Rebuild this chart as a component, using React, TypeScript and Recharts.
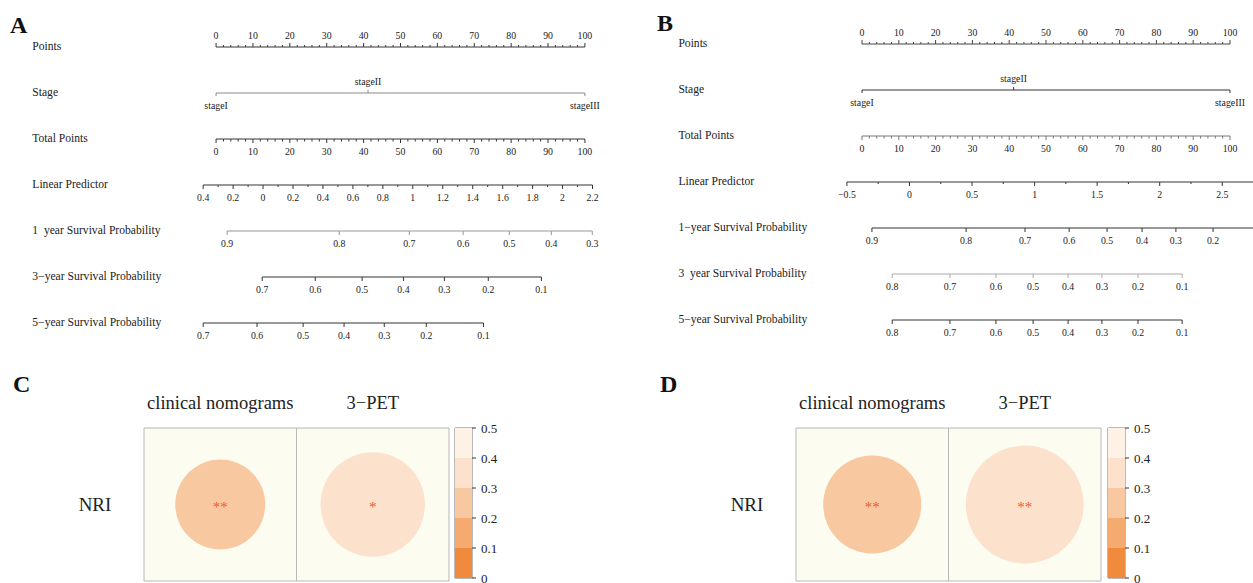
import React from "react";
import {
  ScatterChart,
  Scatter,
  XAxis,
  YAxis,
  ZAxis,
  ReferenceArea,
  BarChart,
  Bar,
} from "recharts";

const FONT = "'Liberation Serif', 'Times New Roman', serif";

// ---------- nomogram A (positions on the 0-100 "Points" scale) ----------
const rowNamesA = [
  "Points",
  "Stage",
  "Total Points",
  "Linear Predictor",
  "1\u00a0\u00a0year Survival Probability",
  "3\u2212year Survival Probability",
  "5\u2212year Survival Probability",
];
const pointsMajor = [0, 10, 20, 30, 40, 50, 60, 70, 80, 90, 100];
const stageLabels = ["stageI", "stageII", "stageIII"];
const stagePtsA = [0, 41.2, 100];

const lpValuesA = [-0.4, -0.2, 0, 0.2, 0.4, 0.6, 0.8, 1, 1.2, 1.4, 1.6, 1.8, 2, 2.2];
const lpLabelsA = ["0.4", "0.2", "0", "0.2", "0.4", "0.6", "0.8", "1", "1.2", "1.4", "1.6", "1.8", "2", "2.2"];
const lpMinorA = [-0.3, -0.1, 0.1, 0.3, 0.5, 0.7, 0.9, 1.1, 1.3, 1.5, 1.7, 1.9, 2.1];
const lpScaleA = { origin: -0.4, originPts: -3.5, ptsPerUnit: 40.6 };

const surv1LabelsA = ["0.9", "0.8", "0.7", "0.6", "0.5", "0.4", "0.3"];
const surv1PtsA = [3.0, 33.4, 52.4, 67.0, 79.5, 90.9, 102.0];
const surv3LabelsA = ["0.7", "0.6", "0.5", "0.4", "0.3", "0.2", "0.1"];
const surv3PtsA = [12.5, 26.9, 39.6, 50.8, 61.9, 73.8, 88.2];
const surv5LabelsA = ["0.7", "0.6", "0.5", "0.4", "0.3", "0.2", "0.1"];
const surv5PtsA = [-3.5, 11.1, 23.6, 34.7, 45.6, 57.0, 72.5];

// ---------- nomogram B ----------
const rowNamesB = [
  "Points",
  "Stage",
  "Total Points",
  "Linear Predictor",
  "1\u2212year Survival Probability",
  "3\u00a0\u00a0year Survival Probability",
  "5\u2212year Survival Probability",
];
const stagePtsB = [0, 41.2, 100];
const lpValuesB = [-0.5, 0, 0.5, 1, 1.5, 2, 2.5];
const lpLabelsB = ["\u22120.5", "0", "0.5", "1", "1.5", "2", "2.5"];
const lpMinorB = [-0.25, 0.25, 0.75, 1.25, 1.75, 2.25, 2.75];
const lpEndB = 3.0;
const lpScaleB = { origin: -0.5, originPts: -4.1, ptsPerUnit: 34.0 };

const surv1LabelsB = ["0.9", "0.8", "0.7", "0.6", "0.5", "0.4", "0.3", "0.2"];
const surv1PtsB = [2.7, 28.3, 44.3, 56.3, 66.6, 76.1, 85.3, 95.4];
const surv1EndB = 112;
const surv3LabelsB = ["0.8", "0.7", "0.6", "0.5", "0.4", "0.3", "0.2", "0.1"];
const surv3PtsB = [8.2, 23.9, 36.4, 46.5, 56.0, 65.2, 75.0, 87.0];
const surv5LabelsB = ["0.8", "0.7", "0.6", "0.5", "0.4", "0.3", "0.2", "0.1"];
const surv5PtsB = [8.2, 23.9, 36.4, 46.5, 56.0, 65.2, 75.0, 87.0];

// ---------- NRI panels ----------
const nriCols = ["clinical nomograms", "3\u2212PET"];
const nriRows = ["NRI"];
const nriValuesC = [0.26, 0.35];
const nriSigC = ["**", "*"];
const nriValuesD = [0.27, 0.39];
const nriSigD = ["**", "**"];
const colorBands = [
  { from: 0, to: 0.1, color: "#F08B3E" },
  { from: 0.1, to: 0.2, color: "#F5AB70" },
  { from: 0.2, to: 0.3, color: "#F8C9A1" },
  { from: 0.3, to: 0.4, color: "#FCE2CC" },
  { from: 0.4, to: 0.5, color: "#FEF1E6" },
];
const colorTicks = [0, 0.1, 0.2, 0.3, 0.4, 0.5];

type NomoTick = { pts: number; row: number; label: string; len: number; side: "above" | "below" };
type NomoRow = { ticks: NomoTick[]; stroke: string };

const range = (a: number, b: number, step: number) => {
  const out: number[] = [];
  for (let v = a; v <= b + 1e-9; v += step) out.push(Math.round(v * 100) / 100);
  return out;
};
const pointsMinor = range(0, 100, 2).filter((v) => v % 10 !== 0);

const mk = (row: number, pts: number[], labels: string[] | null, side: "above" | "below", len: number): NomoTick[] =>
  pts.map((p, i) => ({ pts: p, row, label: labels ? labels[i] : "", len, side }));
const sorted = (t: NomoTick[]) => [...t].sort((a, b) => a.pts - b.pts);
const lpToPts = (s: { origin: number; originPts: number; ptsPerUnit: number }) => (v: number) =>
  s.originPts + (v - s.origin) * s.ptsPerUnit;

const stageRow = (pts: number[]): NomoTick[] =>
  pts.map((p, i) => ({ pts: p, row: 1, label: stageLabels[i], len: 3, side: i === 1 ? "above" : "below" }));

const lpA = lpToPts(lpScaleA);
const rowsA: NomoRow[] = [
  { ticks: sorted([...mk(0, pointsMajor, pointsMajor.map(String), "above", 4), ...mk(0, pointsMinor, null, "above", 2)]), stroke: "#333" },
  { ticks: stageRow(stagePtsA), stroke: "#8a8a8a" },
  { ticks: sorted([...mk(2, pointsMajor, pointsMajor.map(String), "below", 4), ...mk(2, pointsMinor, null, "below", 2.5)]), stroke: "#333" },
  { ticks: sorted([...mk(3, lpValuesA.map(lpA), lpLabelsA, "below", 4), ...mk(3, lpMinorA.map(lpA), null, "below", 2)]), stroke: "#333" },
  { ticks: mk(4, surv1PtsA, surv1LabelsA, "below", 4), stroke: "#999" },
  { ticks: mk(5, surv3PtsA, surv3LabelsA, "below", 4), stroke: "#333" },
  { ticks: mk(6, surv5PtsA, surv5LabelsA, "below", 4), stroke: "#333" },
];

const lpB = lpToPts(lpScaleB);
const rowsB: NomoRow[] = [
  { ticks: sorted([...mk(0, pointsMajor, pointsMajor.map(String), "above", 4), ...mk(0, pointsMinor, null, "above", 2)]), stroke: "#444" },
  { ticks: stageRow(stagePtsB), stroke: "#333" },
  { ticks: sorted([...mk(2, pointsMajor, pointsMajor.map(String), "below", 4), ...mk(2, pointsMinor, null, "below", 2.5)]), stroke: "#777" },
  {
    ticks: sorted([
      ...mk(3, lpValuesB.map(lpB), lpLabelsB, "below", 4),
      ...mk(3, lpMinorB.map(lpB), null, "below", 2),
      ...mk(3, [lpB(lpEndB)], null, "below", 0),
    ]),
    stroke: "#333",
  },
  { ticks: [...mk(4, surv1PtsB, surv1LabelsB, "below", 4), ...mk(4, [surv1EndB], null, "below", 0)], stroke: "#333" },
  { ticks: mk(5, surv3PtsB, surv3LabelsB, "below", 4), stroke: "#aaa" },
  { ticks: mk(6, surv5PtsB, surv5LabelsB, "below", 4), stroke: "#333" },
];

const TickMark = (p: any) => {
  const { cx, cy, payload, stroke } = p;
  const s = payload.side === "above" ? -1 : 1;
  return (
    <g>
      {payload.len > 0 && <line x1={cx} x2={cx} y1={cy} y2={cy + s * payload.len} stroke={stroke} strokeWidth={1} />}
      {payload.label && (
        <text x={cx} y={s < 0 ? cy - 8.5 : cy + 16} textAnchor="middle" fontSize={9.8} fontFamily={FONT} fill="#222">
          {payload.label}
        </text>
      )}
    </g>
  );
};

function Nomogram(props: {
  rows: NomoRow[];
  names: string[];
  left: number;
  top: number;
  width: number;
  domain: [number, number];
  axisWidth: number;
  marginRight: number;
}) {
  const { rows, names, left, top, width, domain, axisWidth, marginRight } = props;
  return (
    <div style={{ position: "absolute", left, top }}>
      <ScatterChart width={width} height={380} margin={{ top: 1, right: marginRight, bottom: 11, left: 0 }}>
        <XAxis type="number" dataKey="pts" domain={domain} hide />
        <YAxis
          type="number"
          dataKey="row"
          domain={[-1, 7]}
          reversed
          ticks={[0, 1, 2, 3, 4, 5, 6]}
          interval={0}
          width={axisWidth}
          axisLine={false}
          tickLine={false}
          tickSize={0}
          tickMargin={0}
          tick={(t: any) => (
            <text x={t.x - 110} y={t.y} dy={3} fontSize={11.6} fontFamily={FONT} fill="#222" textAnchor="start">
              {names[t.payload.value]}
            </text>
          )}
        />
        {rows.map((r, i) => (
          <Scatter
            key={i}
            data={r.ticks}
            line={{ stroke: r.stroke, strokeWidth: 1 }}
            shape={(p: any) => <TickMark {...p} stroke={r.stroke} />}
            isAnimationActive={false}
          />
        ))}
      </ScatterChart>
    </div>
  );
}

const bandColor = (v: number) => {
  const b = colorBands.find((c) => v >= c.from && v < c.to);
  return b ? b.color : colorBands[colorBands.length - 1].color;
};

const Bubble = (p: any) => {
  const r = p.width / 2;
  return (
    <g>
      <circle cx={p.cx} cy={p.cy} r={r} fill={bandColor(p.payload.v)} />
      <text x={p.cx} y={p.cy + 7.5} textAnchor="middle" fontSize={15} fontFamily={FONT} fill="#EE5A28">
        {p.payload.sig}
      </text>
    </g>
  );
};

function NriPanel(props: { left: number; axisWidth: number; values: number[]; sig: string[]; maxArea: number }) {
  const { left, axisWidth, values, sig, maxArea } = props;
  const data = nriCols.map((c, i) => ({ x: i + 0.5, y: 0.5, v: values[i], sig: sig[i] }));
  return (
    <div style={{ position: "absolute", left, top: 360 }}>
      <ScatterChart width={axisWidth + 316} height={223} margin={{ top: 38, right: 11, bottom: 2, left: 0 }}>
        <XAxis
          type="number"
          dataKey="x"
          orientation="top"
          domain={[0, 2]}
          ticks={[0.5, 1.5]}
          interval={0}
          height={30}
          axisLine={false}
          tickLine={false}
          tickSize={0}
          tickMargin={0}
          tick={(t: any) => (
            <text x={t.x} y={t.y - 25} dy={6} textAnchor="middle" fontSize={18.5} fontFamily={FONT} fill="#222">
              {nriCols[Math.floor(t.payload.value)]}
            </text>
          )}
        />
        <YAxis
          type="number"
          dataKey="y"
          domain={[0, 1]}
          ticks={[0.5]}
          width={axisWidth}
          axisLine={false}
          tickLine={false}
          tickSize={0}
          tickMargin={0}
          tick={(t: any) => (
            <text x={t.x - 49} y={t.y} dy={6} textAnchor="middle" fontSize={19} fontFamily={FONT} fill="#222">
              {nriRows[0]}
            </text>
          )}
        />
        <ZAxis type="number" dataKey="v" domain={[0, 0.5]} range={[0, maxArea]} />
        {nriCols.map((c, i) => (
          <ReferenceArea key={c} x1={i} x2={i + 1} y1={0} y2={1} fill="#FDFCF0" fillOpacity={1} stroke="#B8B8B8" strokeWidth={1} />
        ))}
        <Scatter data={data} shape={Bubble} isAnimationActive={false} />
      </ScatterChart>
    </div>
  );
}

function ColorBar({ left }: { left: number }) {
  const row: Record<string, any> = { k: "cb" };
  colorBands.forEach((b, i) => (row[`b${i}`] = Math.round((b.to - b.from) * 100) / 100));
  return (
    <div style={{ position: "absolute", left, top: 420 }}>
      <BarChart width={100} height={163} data={[row]} margin={{ top: 8, right: 18, bottom: 5, left: 15 }} barCategoryGap={0}>
        <XAxis dataKey="k" hide />
        <YAxis
          orientation="right"
          type="number"
          domain={[0, 0.5]}
          ticks={colorTicks}
          interval={0}
          width={50}
          tickSize={4}
          tickMargin={5}
          axisLine={false}
          stroke="#333"
          tick={{ fontSize: 13, fill: "#222", fontFamily: FONT }}
        />
        {colorBands.map((b, i) => (
          <Bar key={i} dataKey={`b${i}`} stackId="cb" fill={b.color} isAnimationActive={false} />
        ))}
        <ReferenceArea y1={0} y2={0.5} fill="none" stroke="#777" strokeWidth={1} />
      </BarChart>
    </div>
  );
}

export default function App() {
  return (
    <div
      style={{
        position: "absolute",
        left: 0,
        top: 0,
        width: 1253,
        height: 583,
        overflow: "hidden",
        background: "#fff",
        fontFamily: FONT,
      }}
    >
      <Nomogram rows={rowsA} names={rowNamesA} left={0} top={0} width={640} domain={[-20, 110]} axisWidth={142.3} marginRight={18.2} />
      <Nomogram rows={rowsB} names={rowNamesB} left={640} top={-3} width={680} domain={[-20, 120]} axisWidth={148.4} marginRight={16.4} />
      <NriPanel left={0} axisWidth={144} values={nriValuesC} sig={nriSigC} maxArea={12235} />
      <ColorBar left={440} />
      <NriPanel left={640} axisWidth={156} values={nriValuesD} sig={nriSigD} maxArea={14000} />
      <ColorBar left={1093} />
      <svg width={1253} height={583} style={{ position: "absolute", left: 0, top: 0, pointerEvents: "none" }}>
        {[
          { t: "A", x: 10, y: 33 },
          { t: "B", x: 657, y: 31 },
          { t: "C", x: 13, y: 392 },
          { t: "D", x: 660, y: 392 },
        ].map((l) => (
          <text key={l.t} x={l.x} y={l.y} fontSize={24} fontWeight="bold" fontFamily={FONT} fill="#111">
            {l.t}
          </text>
        ))}
      </svg>
    </div>
  );
}
